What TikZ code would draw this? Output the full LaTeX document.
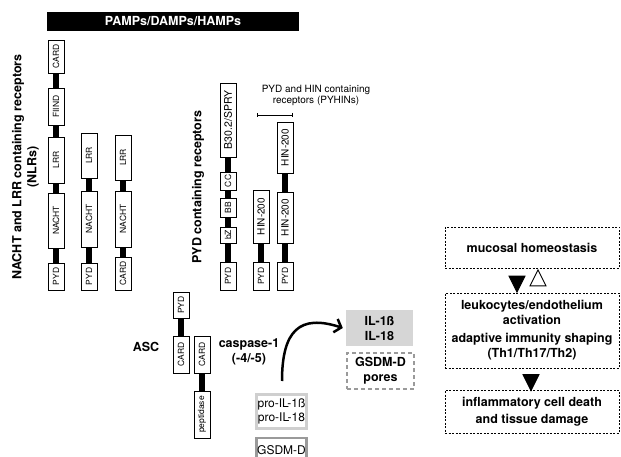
\documentclass[tikz,border=0pt]{standalone}
\usepackage{fontspec}
\setmainfont{TeX Gyre Heros}
\usetikzlibrary{arrows.meta, shapes.geometric}

\definecolor{lightgrey}{HTML}{CFCFCF}
\definecolor{midgrey}{HTML}{9A9A9A}
\definecolor{fillgrey}{HTML}{D6D6D6}

\tikzset{
  dom/.style={draw, line width=0.9pt, fill=white, rotate=90, minimum height=16pt,
    inner sep=0pt, font=\fontsize{8.5}{9}\selectfont},
  link/.style={line width=6.5pt},
  bigtxt/.style={font=\bfseries\fontsize{12.5}{15}\selectfont, align=center},
  outcome/.style={draw, line width=0.9pt, dash pattern=on 2pt off 1.5pt,
    minimum width=174pt, inner sep=0pt, bigtxt},
  tri/.style={isosceles triangle, isosceles triangle stretches, minimum width=16pt,
    minimum height=16pt, inner sep=0pt, draw, line width=0.9pt},
}

\begin{document}
\begin{tikzpicture}[x=1pt, y=-1pt]
  \useasboundingbox (0,0) rectangle (621,457);
  \clip (0,0) rectangle (621,457);

  %--- stimulus bar ---
  \node[fill=black, text=white, minimum width=252pt, minimum height=19pt, inner sep=0pt, bigtxt]
    (pamps) at (173,21.5) {PAMPs/DAMPs/HAMPs};

  %--- NLRs ---
  \node[bigtxt, rotate=90] (nlrlab) at (25.5,167) {NACHT and LRR containing receptors\\(NLRs)};
  % NLR 1
  \node[dom, minimum width=33pt] (c1card) at (56,56.5) {CARD};
  \node[dom, minimum width=37pt] (c1fiind) at (56,106.5) {FIIND};
  \node[dom, minimum width=46pt] (c1lrr) at (56,160) {LRR};
  \node[dom, minimum width=55pt] (c1nacht) at (56,220.5) {NACHT};
  \node[dom, minimum width=27pt] (c1pyd) at (56,276.5) {PYD};
  % NLR 2
  \node[dom, minimum width=45pt] (c2lrr) at (89,155.5) {LRR};
  \node[dom, minimum width=56pt] (c2nacht) at (89,219) {NACHT};
  \node[dom, minimum width=27pt] (c2pyd) at (89,276.5) {PYD};
  % NLR 3
  \node[dom, minimum width=45pt] (c3lrr) at (123,157.5) {LRR};
  \node[dom, minimum width=56pt] (c3nacht) at (123,219) {NACHT};
  \node[dom, minimum width=33pt] (c3card) at (123,273.5) {CARD};

  %--- PYD containing receptors ---
  \node[bigtxt, rotate=90] (pydlab) at (198,187) {PYD containing receptors};
  \node[dom, minimum width=74pt, font=\fontsize{10.5}{11}\selectfont] (c4b30) at (228,120) {B30.2/SPRY};
  \node[dom, minimum width=18pt] (c4cc) at (228,181) {CC};
  \node[dom, minimum width=19pt] (c4bb) at (228,207.5) {BB};
  \node[dom, minimum width=16pt] (c4bz) at (228,235) {bZ};
  \node[dom, minimum width=28pt] (c4pyd) at (228,276) {PYD};
  % PYHINs
  \node[font=\fontsize{10}{11}\selectfont, align=center] (pyhinlab) at (316,95.5)
    {PYD and HIN containing\\receptors (PYHINs)};
  \coordinate (barL) at (257,115);
  \coordinate (barR) at (293,115);
  \draw[{Bar[width=4pt]}-{Bar[width=4pt]}, line width=0.6pt] (barL) -- (barR);
  \node[dom, minimum width=53pt, font=\fontsize{10}{11}\selectfont] (c5hin) at (261,216.5) {HIN-200};
  \node[dom, minimum width=28pt] (c5pyd) at (261,276) {PYD};
  \node[dom, minimum width=51pt, font=\fontsize{10}{11}\selectfont] (c6hina) at (285,147.5) {HIN-200};
  \node[dom, minimum width=51pt, font=\fontsize{10}{11}\selectfont] (c6hinb) at (285,217.5) {HIN-200};
  \node[dom, minimum width=28pt] (c6pyd) at (285,276) {PYD};

  %--- ASC and caspase ---
  \node[bigtxt] (asclab) at (146,347) {ASC};
  \node[dom, minimum width=26pt] (ascpyd) at (181,305) {PYD};
  \node[dom, minimum width=37pt] (asccard) at (181,354.5) {CARD};
  \node[dom, minimum width=37pt] (caspcard) at (202,354.5) {CARD};
  \node[dom, minimum width=47pt] (casppep) at (202,414.5) {peptidase};
  \node[bigtxt] (casplab) at (249,352) {caspase-1\\(-4/-5)};

  % linkers
  \foreach \a/\b in {c1pyd/c1nacht, c1nacht/c1lrr, c1lrr/c1fiind, c1fiind/c1card,
      c2pyd/c2nacht, c2nacht/c2lrr, c3card/c3nacht, c3nacht/c3lrr,
      c4pyd/c4bz, c4bz/c4bb, c4bb/c4cc, c4cc/c4b30,
      c5pyd/c5hin, c6pyd/c6hinb, c6hinb/c6hina,
      asccard/ascpyd, casppep/caspcard}
    \draw[link] (\a.east) -- (\b.west);

  %--- substrates and products ---
  \node[draw=lightgrey, line width=3pt, minimum width=50pt, minimum height=34pt, inner sep=0pt,
    align=center, font=\fontsize{12}{13.5}\selectfont] (proil) at (281.5,411.5) {pro-IL-1ß\\pro-IL-18};
  \node[draw=midgrey, line width=2.5pt, minimum width=50pt, minimum height=24pt, inner sep=0pt,
    font=\fontsize{12}{14}\selectfont] (gsdm) at (281.5,450) {GSDM-D};
  \node[fill=fillgrey, minimum width=67pt, minimum height=36pt, inner sep=0pt, bigtxt]
    (ilbox) at (379.5,328) {IL-1ß\\IL-18};
  \node[draw=midgrey, line width=2pt, dash pattern=on 4pt off 3pt, minimum width=67pt,
    minimum height=36pt, inner sep=0pt, bigtxt] (pores) at (380.5,371) {GSDM-D\\pores};
  \coordinate (arrS) at (282,381);
  \draw[line width=2.5pt, -{Straight Barb[length=6pt,width=14pt]}]
    (arrS) .. controls (282,330) and (300,314) .. ([xshift=-3pt]ilbox.west);

  %--- outcomes ---
  \node[outcome, minimum height=41pt] (homeo) at (532,247.5) {mucosal homeostasis};
  \node[outcome, minimum height=75pt] (activ) at (532,330.5)
    {leukocytes/endothelium\\activation\\[3pt]adaptive immunity shaping\\(Th1/Th17/Th2)};
  \node[outcome, minimum height=43pt] (damage) at (532,411.5)
    {inflammatory cell death\\[2pt]and tissue damage};
  \node[tri, fill=black, shape border rotate=270] (triA) at (517,281) {};
  \node[tri, fill=white, shape border rotate=90] (triB) at (538,281) {};
  \node[tri, fill=black, shape border rotate=270] (triC) at (531,379.5) {};
\end{tikzpicture}
\end{document}
